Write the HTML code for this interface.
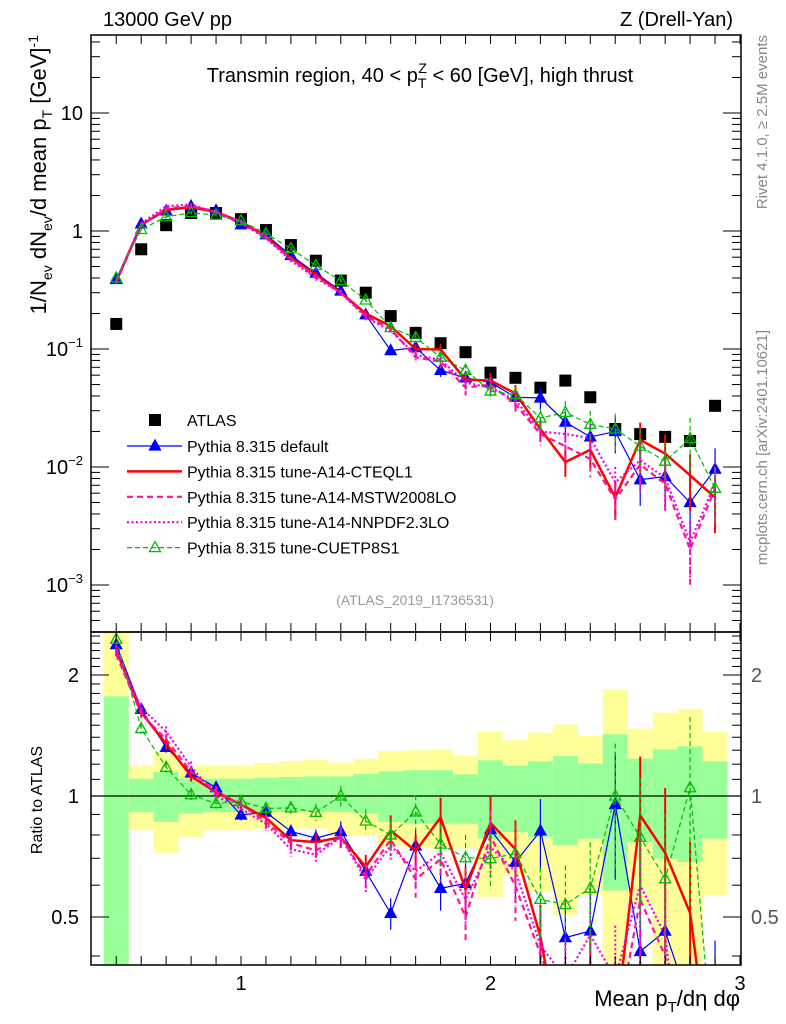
<!DOCTYPE html>
<html><head><meta charset="utf-8"><style>
html,body{margin:0;padding:0;background:#fff;width:786px;height:1024px;overflow:hidden}
svg{display:block;font-family:"Liberation Sans",sans-serif}
</style></head><body>
<svg id="c" width="786" height="1024" xmlns="http://www.w3.org/2000/svg"></svg>
<script>
const xs=[0.5,0.6,0.7,0.8,0.9,1.0,1.1,1.2,1.3,1.4,1.5,1.6,1.7,1.8,1.9,2.0,2.1,2.2,2.3,2.4,2.5,2.6,2.7,2.8,2.9];
const atlas=[0.163,0.70,1.12,1.42,1.42,1.26,1.02,0.76,0.56,0.38,0.30,0.19,0.137,0.112,0.094,0.063,0.057,0.047,0.054,0.039,0.021,0.019,0.018,0.0166,0.033];
const mcDefault=[0.388,1.15,1.48,1.62,1.49,1.13,0.93,0.62,0.44,0.31,0.195,0.097,0.103,0.066,0.057,0.052,0.039,0.0385,0.024,0.018,0.020,0.0078,0.0083,0.0050,0.0096];
const mcCteq=[0.375,1.13,1.51,1.59,1.45,1.20,0.90,0.59,0.43,0.30,0.20,0.156,0.100,0.099,0.055,0.054,0.042,0.021,0.011,0.014,0.0055,0.017,0.013,0.0085,0.0055];
const mcMstw=[0.367,1.12,1.55,1.63,1.46,1.20,0.88,0.58,0.41,0.30,0.19,0.148,0.085,0.078,0.047,0.050,0.034,0.019,0.015,0.0117,0.0053,0.0105,0.0072,0.0020,0.0066];
const mcNnpdf=[0.375,1.16,1.62,1.68,1.42,1.17,0.87,0.56,0.40,0.30,0.186,0.143,0.089,0.081,0.052,0.047,0.037,0.020,0.019,0.0176,0.0074,0.0114,0.0081,0.0023,0.0073];
const mcCuetp=[0.40,1.03,1.32,1.43,1.36,1.22,0.95,0.71,0.51,0.38,0.26,0.152,0.125,0.085,0.066,0.044,0.041,0.026,0.029,0.023,0.021,0.015,0.0112,0.0174,0.0066];
const mcRelErr=[0.03,0.03,0.03,0.03,0.03,0.03,0.04,0.04,0.05,0.06,0.07,0.09,0.1,0.12,0.14,0.16,0.18,0.2,0.25,0.3,0.35,0.4,0.45,0.5,0.5];
const yelUp=[2.6,1.19,1.287,1.19,1.19,1.19,1.208,1.222,1.231,1.21,1.238,1.292,1.299,1.306,1.262,1.448,1.376,1.437,1.505,1.41,1.843,1.47,1.61,1.649,1.443];
const grnUp=[1.77,1.104,1.147,1.104,1.104,1.104,1.11,1.115,1.119,1.119,1.136,1.152,1.159,1.159,1.132,1.227,1.188,1.22,1.257,1.204,1.424,1.238,1.306,1.329,1.22];
const grnDn=[0.3,0.912,0.862,0.904,0.912,0.912,0.912,0.912,0.912,0.912,0.904,0.862,0.853,0.853,0.853,0.783,0.814,0.79,0.754,0.783,0.582,0.768,0.698,0.685,0.783];
const yelDn=[0.3,0.822,0.719,0.79,0.822,0.822,0.829,0.829,0.829,0.795,0.795,0.754,0.746,0.74,0.74,0.561,0.635,0.577,0.505,0.566,0.3,0.535,0.3,0.3,0.566];
const xTicks=[1,2,3];
const yTicksTop=[10,1,0.1,0.01,0.001];
const yTicksRatio=[2,1,0.5];

const NS="http://www.w3.org/2000/svg",svg=document.getElementById('c');
const L=91,R=741,T1=35,B1=632,B2=965;
const X=v=>241+(v-1)*249.5;
const Y1=v=>231-Math.log10(v)*118;
const Y2=v=>796-Math.log10(v)*402;
function el(tag,attrs,parent){const e=document.createElementNS(NS,tag);for(const k in attrs)e.setAttribute(k,attrs[k]);(parent||svg).appendChild(e);return e;}
function tx(x,y,s,size,opt,parent){const e=el('text',Object.assign({x:x,y:y,'font-size':size,fill:'#000'},opt||{}),parent);e.innerHTML=s;return e;}

const defs=el('defs',{});
const c1=el('clipPath',{id:'cp1'},defs);el('rect',{x:L,y:T1,width:R-L,height:B1-T1},c1);
const c2=el('clipPath',{id:'cp2'},defs);el('rect',{x:L,y:B1,width:R-L,height:B2-B1},c2);

const gb=el('g',{'clip-path':'url(#cp2)'});


xs.forEach((x,i)=>{
 const x0=X(x-0.05),x1=X(x+0.05);
 el('rect',{x:x0,y:Y2(yelUp[i]),width:x1-x0,height:Y2(yelDn[i])-Y2(yelUp[i]),fill:'#ffff99'},gb);
 el('rect',{x:x0,y:Y2(grnUp[i]),width:x1-x0,height:Y2(grnDn[i])-Y2(grnUp[i]),fill:'#99ff99'},gb);
});
el('line',{x1:L,x2:R,y1:Y2(1),y2:Y2(1),stroke:'#000','stroke-width':1.3});

const series=[
 {name:'default',d:mcDefault,c:'#0000ff',w:1.2,dash:'',m:'tri',label:'Pythia 8.315 default'},
 {name:'a14-cteql1',d:mcCteq,c:'#ff0000',w:2.5,dash:'',m:'',label:'Pythia 8.315 tune-A14-CTEQL1'},
 {name:'a14-mstw2008lo',d:mcMstw,c:'#ff1493',w:2.2,dash:'6,4',m:'',label:'Pythia 8.315 tune-A14-MSTW2008LO'},
 {name:'a14-nnpdf23lo',d:mcNnpdf,c:'#ee00ee',w:2.2,dash:'2,2.5',m:'',label:'Pythia 8.315 tune-A14-NNPDF2.3LO'},
 {name:'cuetp8s1',d:mcCuetp,c:'#00bb00',w:1.2,dash:'5,3',m:'otri',label:'Pythia 8.315 tune-CUETP8S1'}
];
function tri(g,x,y,c,open){el('path',{d:`M${x},${y-6}L${x+5.5},${y+4}L${x-5.5},${y+4}Z`,fill:open?'none':c,stroke:c,'stroke-width':1.3},g);}

function drawPanel(Y,clip,ratio){
 const g=el('g',{'clip-path':`url(#${clip})`});
 
 
 if(!ratio){
  atlas.forEach((v,i)=>{const m=el('rect',{x:X(xs[i])-6,y:Y(v)-6,width:12,height:12,fill:'#000'},g);
   
   });
 }
 series.forEach(s=>{
  const vals=s.d.map((v,i)=>ratio?v/atlas[i]:v);
  const sg=el('g',{},g);
  
  
  vals.forEach((v,i)=>{
   const e=mcRelErr[i]*v;
   const lo=Math.max(v-e,1e-6);
   el('line',{x1:X(xs[i]),x2:X(xs[i]),y1:Y(v+e),y2:Y(lo),stroke:s.c,'stroke-width':s.w>2?2:1.2,'stroke-dasharray':s.dash},sg);
  });
  const pts=vals.map((v,i)=>X(xs[i])+','+Y(Math.max(v,1e-6)).toFixed(1)).join(' ');
  el('polyline',{points:pts,fill:'none',stroke:s.c,'stroke-width':s.w,'stroke-dasharray':s.dash},sg);
  if(s.m) vals.forEach((v,i)=>tri(sg,X(xs[i]),Y(v),s.c,s.m==='otri'));
 });
}
drawPanel(Y1,'cp1',false);
drawPanel(Y2,'cp2',true);

el('rect',{x:L,y:T1,width:R-L,height:B1-T1,fill:'none',stroke:'#000','stroke-width':1.5});
el('rect',{x:L,y:B1,width:R-L,height:B2-B1,fill:'none',stroke:'#000','stroke-width':1.5});

for(let k=5;k<=30;k++){const v=k/10,x=X(v);if(x<L||x>R)continue;
 [[T1,1],[B1,-1],[B1,1],[B2,-1]].forEach(([y,d])=>el('line',{x1:x,x2:x,y1:y,y2:y+d*9,stroke:'#000','stroke-width':1}));}
xTicks.forEach(v=>{const t=tx(X(v),990,String(v),20,{'text-anchor':'middle'});
 });
for(let e=-4;e<=1;e++)for(let m=1;m<=9;m++){const v=m*Math.pow(10,e),y=Y1(v);if(y<T1||y>B1)continue;
 const len=m===1?18:9;
 el('line',{x1:L,x2:L+len,y1:y,y2:y,stroke:'#000'});el('line',{x1:R,x2:R-len,y1:y,y2:y,stroke:'#000'});}
const topLab={10:'10',1:'1',0.1:'10<tspan font-size="13" dy="-9">−1</tspan>',0.01:'10<tspan font-size="13" dy="-9">−2</tspan>',0.001:'10<tspan font-size="13" dy="-9">−3</tspan>'};
yTicksTop.forEach(v=>{const t=tx(L-8,Y1(v)+7,topLab[v],20,{'text-anchor':'end'});
 });
for(let v=0.4;v<=2.6;v+=0.1){const y=Y2(v);if(y<B1||y>B2)continue;
 const maj=Math.abs(v-1)<1e-6||Math.abs(v-2)<1e-6||Math.abs(v-0.5)<1e-6;const len=maj?18:9;
 el('line',{x1:L,x2:L+len,y1:y,y2:y,stroke:'#000'});el('line',{x1:R,x2:R-len,y1:y,y2:y,stroke:'#000'});}
yTicksRatio.forEach(v=>{
 const a=tx(L-12,Y2(v)+7,String(v),20,{'text-anchor':'end'});
 const b=tx(R+10,Y2(v)+7,String(v),20,{fill:'#555'});});

let t;
t=tx(103,26,'13000 GeV pp',20);
t=tx(733,26,'Z (Drell-Yan)',20,{'text-anchor':'end'});
t=tx(420,82,'Transmin region, 40 &lt; p<tspan font-size="14" dy="6">T</tspan><tspan font-size="14" dx="-8" dy="-15">Z</tspan><tspan dy="9"> &lt; 60 [GeV], high thrust</tspan>',20,{'text-anchor':'middle'});

t=tx(0,0,'1/N<tspan font-size="14" dy="6">ev</tspan><tspan dy="-6"> dN</tspan><tspan font-size="14" dy="6">ev</tspan><tspan dy="-6">/d mean p</tspan><tspan font-size="14" dy="6">T</tspan><tspan dy="-6"> [GeV]</tspan><tspan font-size="14" dy="-8">-1</tspan>',22,{'text-anchor':'end',transform:'translate(46,35) rotate(-90)'});

t=tx(0,0,'Ratio to ATLAS',16,{'text-anchor':'middle',transform:'translate(42,800) rotate(-90)'});

t=tx(740,1006,'Mean p<tspan font-size="15" dy="6">T</tspan><tspan dy="-6">/dη dφ</tspan>',22,{'text-anchor':'end'});

t=tx(0,0,'Rivet 4.1.0, ≥ 2.5M events',15,{fill:'#888','text-anchor':'end',transform:'translate(767,35) rotate(-90)'});

t=tx(0,0,'mcplots.cern.ch [arXiv:2401.10621]',15,{fill:'#888','text-anchor':'end',transform:'translate(767,330) rotate(-90)'});

t=tx(415,605,'(ATLAS_2019_I1736531)',14,{fill:'#999','text-anchor':'middle'});


const lg=el('g',{});


const ag=el('g',{},lg);


el('rect',{x:149,y:414,width:12,height:12,fill:'#000'},ag);
tx(187,426,'ATLAS',16,{},ag);
series.forEach((s,i)=>{
 const y=446+i*25.4;
 const eg=el('g',{},lg);
 
 
 el('line',{x1:127,x2:182,y1:y,y2:y,stroke:s.c,'stroke-width':s.w,'stroke-dasharray':s.dash},eg);
 if(s.m)tri(eg,155,y,s.c,s.m==='otri');
 tx(187,y+6,s.label,16,{},eg);
});
</script>
</body></html>
